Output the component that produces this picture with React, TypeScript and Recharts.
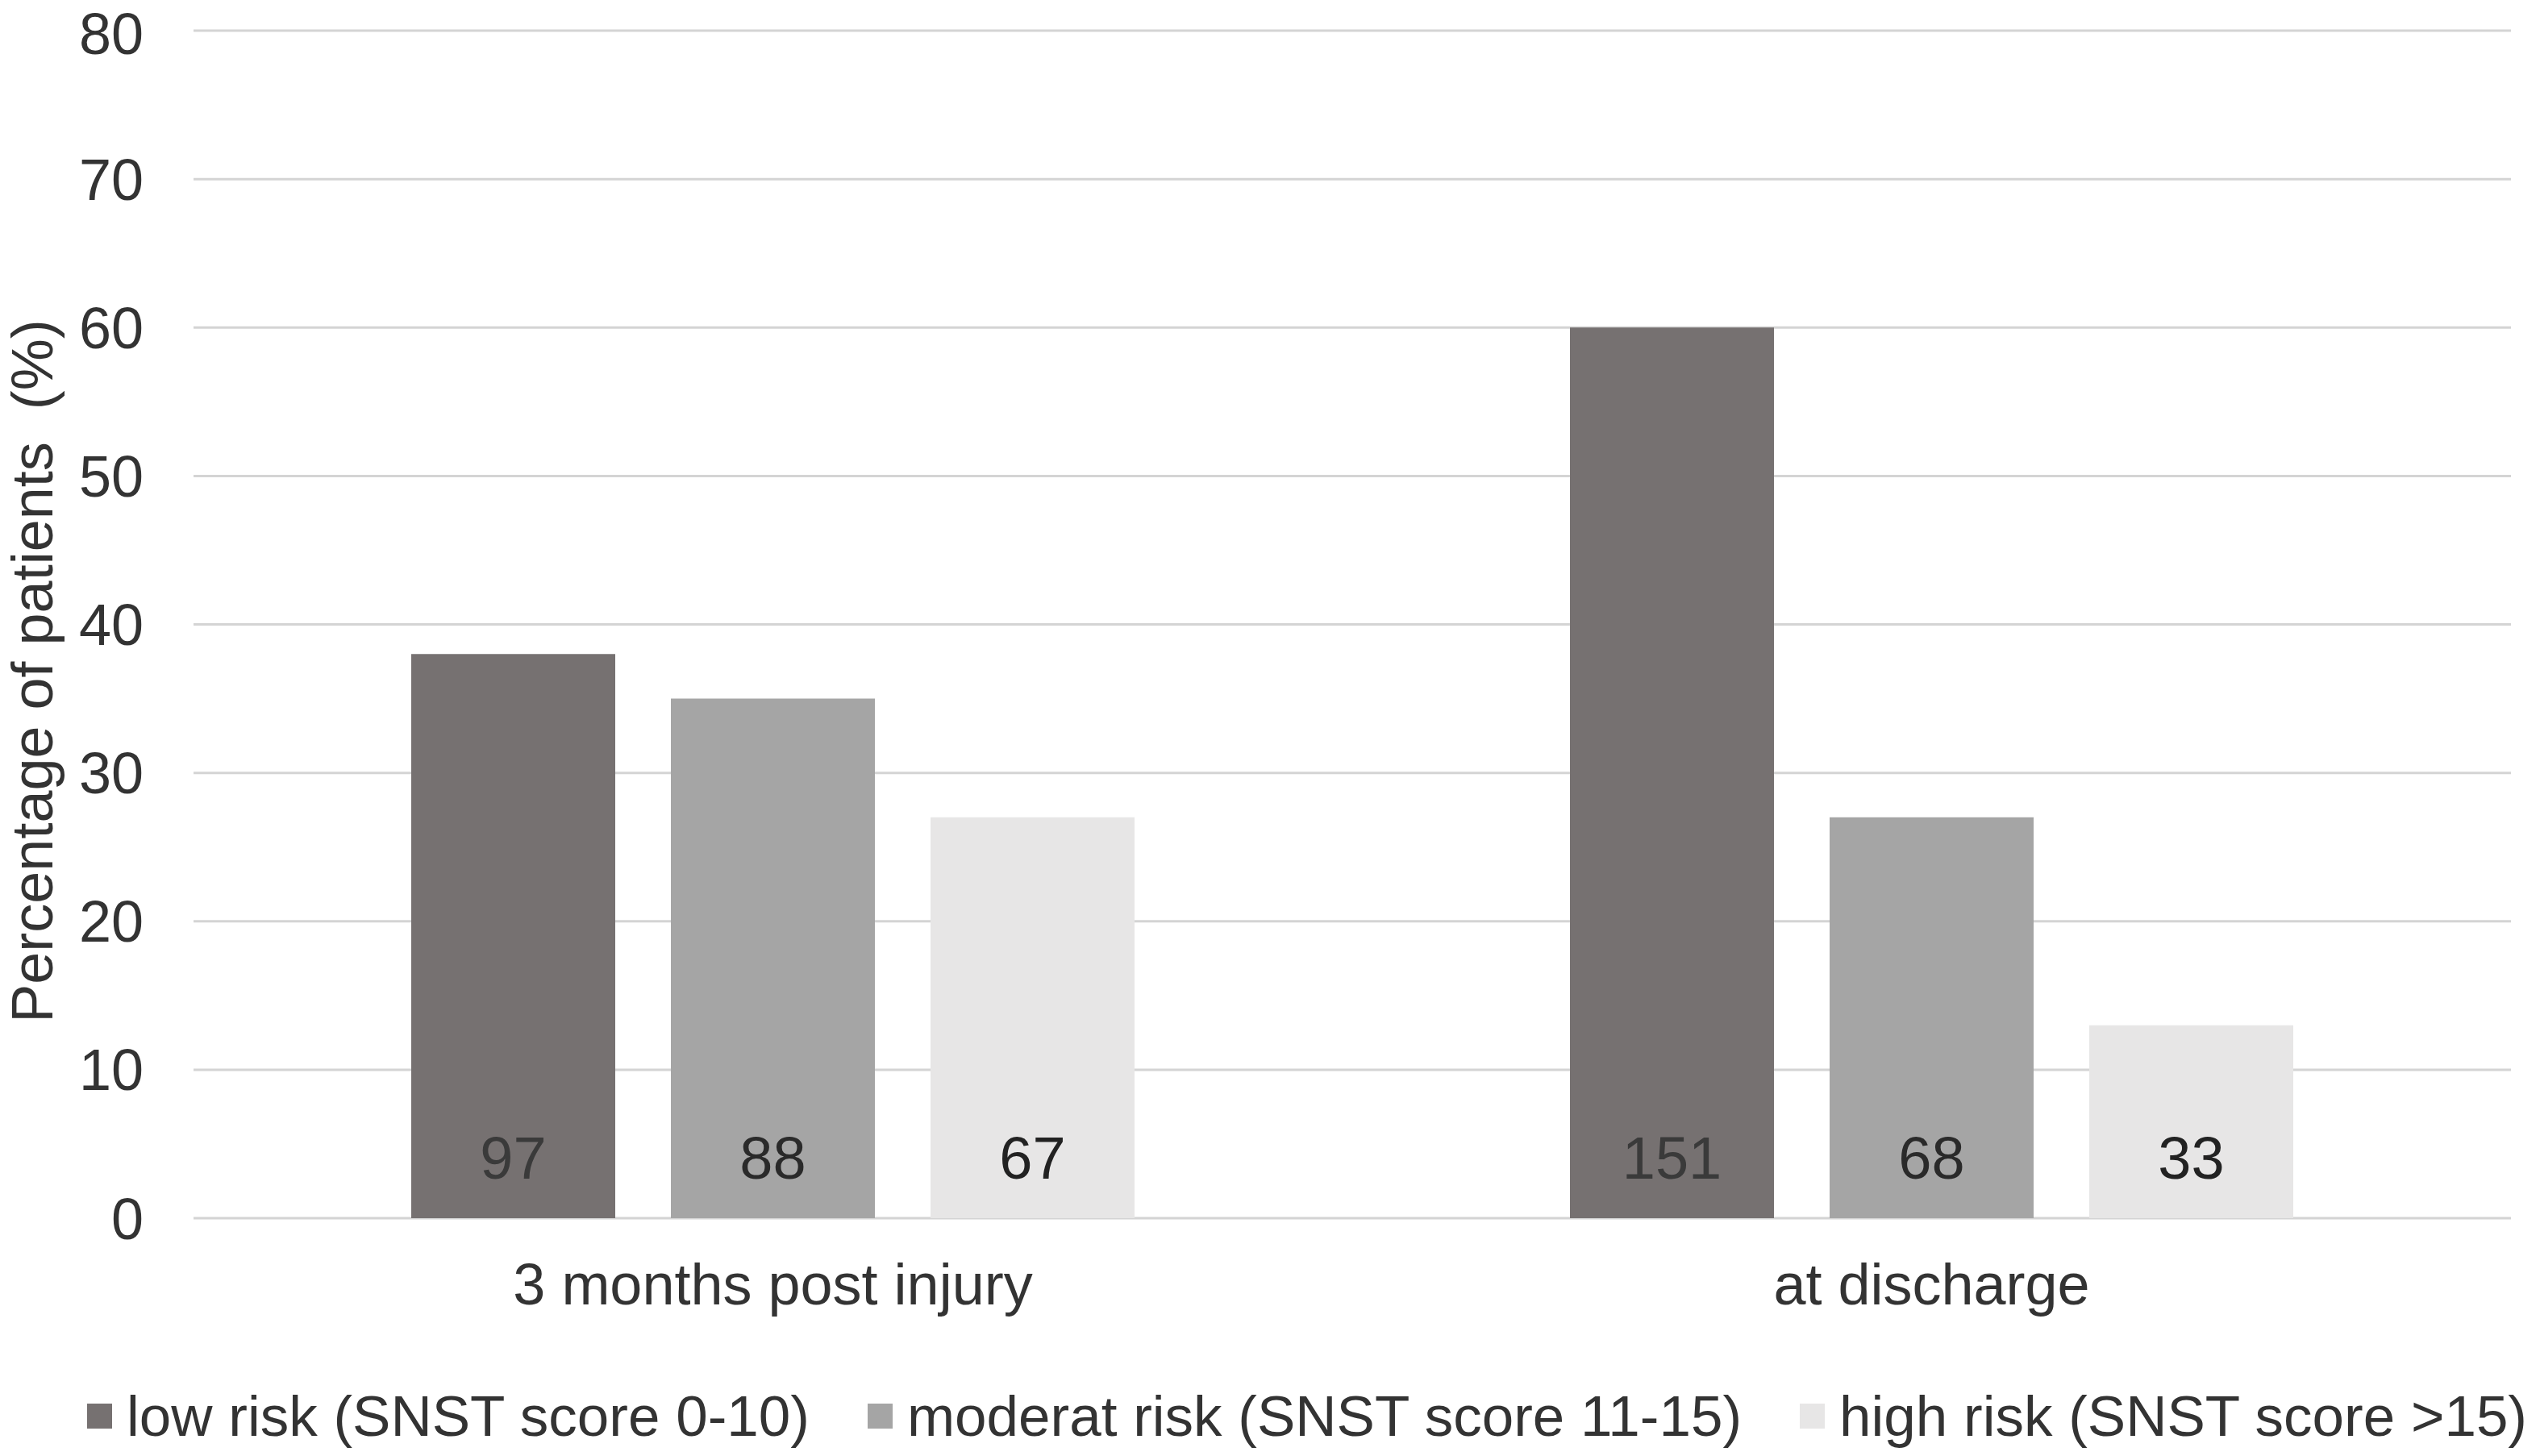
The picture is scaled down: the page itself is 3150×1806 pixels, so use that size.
import React from 'react';
import { BarChart, Bar, XAxis, YAxis, CartesianGrid, Legend, LabelList } from 'recharts';

const categories = ['3 months post injury', 'at discharge'];
const lowRiskPct = [38, 60];
const moderateRiskPct = [35, 27];
const highRiskPct = [27, 13];
const lowRiskN = [97, 151];
const moderateRiskN = [88, 68];
const highRiskN = [67, 33];
const yTicks = [0, 10, 20, 30, 40, 50, 60, 70, 80];
const seriesNames = [
  'low risk (SNST score 0-10)',
  'moderat risk (SNST score 11-15)',
  'high risk (SNST score >15)',
];
const seriesColors = ['#767171', '#a5a5a5', '#e7e6e6'];

const data = categories.map((c, i) => ({
  name: c,
  low: lowRiskPct[i],
  moderate: moderateRiskPct[i],
  high: highRiskPct[i],
  lowN: lowRiskN[i],
  moderateN: moderateRiskN[i],
  highN: highRiskN[i],
}));

const FONT = '"Liberation Sans", Arial, Helvetica, sans-serif';
const TEXT = '#333333';

const YLabel = (props: any) => {
  const vb = props.viewBox || { x: 0, y: 0, width: 0, height: 0 };
  const cx = vb.x + 40;
  const cy = vb.y + vb.height / 2 + 58;
  return (
    <text
      x={cx}
      y={cy}
      transform={`rotate(-90, ${cx}, ${cy})`}
      textAnchor="middle"
      dominantBaseline="central"
      fontSize={72}
      fill={TEXT}
      fontFamily={FONT}
      style={{ whiteSpace: 'pre' }}
    >
      {'Percentage of patients  (%)'}
    </text>
  );
};

const LegendContent = (props: any) => {
  const payload = [...(props.payload || [])].sort(
    (a: any, b: any) => seriesNames.indexOf(a.value) - seriesNames.indexOf(b.value)
  );
  return (
    <div
      style={{
        height: 100,
        display: 'flex',
        alignItems: 'center',
        justifyContent: 'flex-start',
        paddingLeft: 108,
        fontFamily: FONT,
        fontSize: 71,
        color: TEXT,
        whiteSpace: 'nowrap',
      }}
    >
      {payload.map((p: any, i: number) => (
        <div key={i} style={{ display: 'flex', alignItems: 'center', marginRight: 72 }}>
          <div style={{ width: 31, height: 31, background: p.color, marginRight: 18 }} />
          <span>{p.value}</span>
        </div>
      ))}
    </div>
  );
};

export default function App() {
  return (
    <div style={{ width: 3150, height: 1806, fontFamily: FONT, background: '#ffffff' }}>
      <style>{'body{margin:0;background:#fff;}'}</style>
      <BarChart
        width={3150}
        height={1806}
        data={data}
        margin={{ top: 38, right: 36, left: 0, bottom: 0 }}
        barGap={69}
      >
        <CartesianGrid vertical={false} stroke="#d4d4d4" strokeWidth={3} />
        <XAxis
          dataKey="name"
          axisLine={false}
          tickLine={false}
          tickSize={0}
          tickMargin={56}
          height={195}
          tick={{ fontSize: 72, fill: TEXT, fontFamily: FONT }}
        />
        <YAxis
          domain={[0, 80]}
          ticks={yTicks}
          axisLine={false}
          tickLine={false}
          tickSize={0}
          tickMargin={62}
          width={240}
          tick={{ fontSize: 72, fill: TEXT, fontFamily: FONT }}
          label={YLabel}
        />
        <Legend
          verticalAlign="bottom"
          content={LegendContent}
          itemSorter={null as any}
          wrapperStyle={{ left: 0, width: 3150 }}
        />
        <Bar dataKey="low" name={seriesNames[0]} fill={seriesColors[0]} barSize={253} isAnimationActive={false}>
          <LabelList dataKey="lowN" position="insideBottom" offset={49} fill="#3a3a3a" fontSize={74} fontFamily={FONT} />
        </Bar>
        <Bar dataKey="moderate" name={seriesNames[1]} fill={seriesColors[1]} barSize={253} isAnimationActive={false}>
          <LabelList dataKey="moderateN" position="insideBottom" offset={49} fill="#2a2a2a" fontSize={74} fontFamily={FONT} />
        </Bar>
        <Bar dataKey="high" name={seriesNames[2]} fill={seriesColors[2]} barSize={253} isAnimationActive={false}>
          <LabelList dataKey="highN" position="insideBottom" offset={49} fill="#222222" fontSize={74} fontFamily={FONT} />
        </Bar>
      </BarChart>
    </div>
  );
}
